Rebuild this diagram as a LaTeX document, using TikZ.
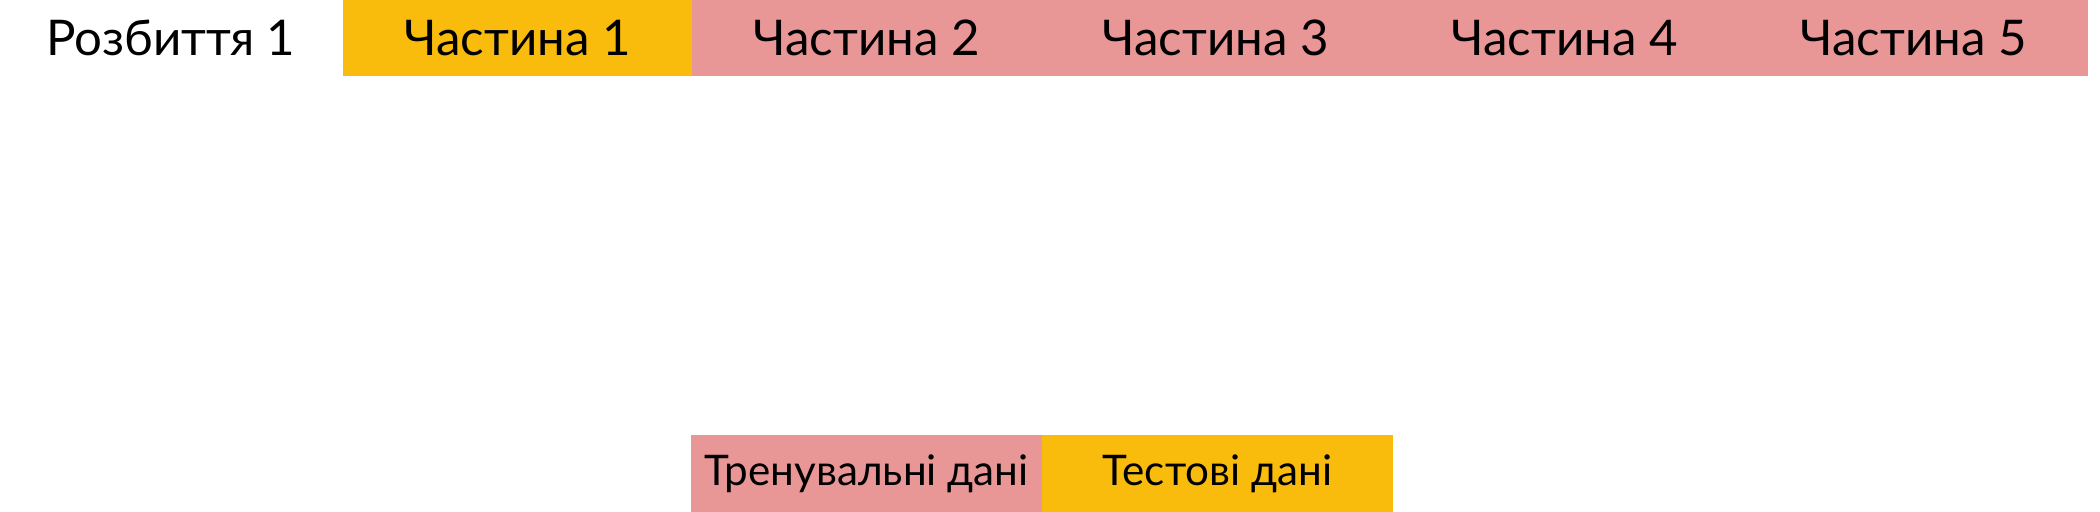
\documentclass[tikz,border=0pt]{standalone}
\usepackage{fontspec}
\setmainfont{Lato}
\usepackage{tikz}
\definecolor{partyellow}{RGB}{249,188,12}
\definecolor{partpink}{RGB}{233,150,150}

\begin{document}
\begin{tikzpicture}[
  part/.style={minimum width=3.49cm,minimum height=0.76cm,inner sep=0pt,
    font=\fontsize{14}{16}\selectfont},
  data/.style={minimum width=3.51cm,minimum height=0.77cm,inner sep=0pt,
    font=\fontsize{12}{14}\selectfont}]
\useasboundingbox(0,0)rectangle(21,5.12);
% top row
\node[part](split)at(1.71,4.74){Розбиття 1};
\node[part,fill=partyellow](p1)at(5.175,4.74){Частина 1};
\node[part,fill=partpink](p2)at(8.665,4.74){Частина 2};
\node[part,fill=partpink](p3)at(12.155,4.74){Частина 3};
\node[part,fill=partpink](p4)at(15.645,4.74){Частина 4};
\node[part,fill=partpink](p5)at(19.135,4.74){Частина 5};
% bottom row
\node[data,fill=partpink](train)at(8.665,0.385){Тренувальні дані};
\node[data,fill=partyellow](test)at(12.175,0.385){Тестові дані};
\end{tikzpicture}
\end{document}
